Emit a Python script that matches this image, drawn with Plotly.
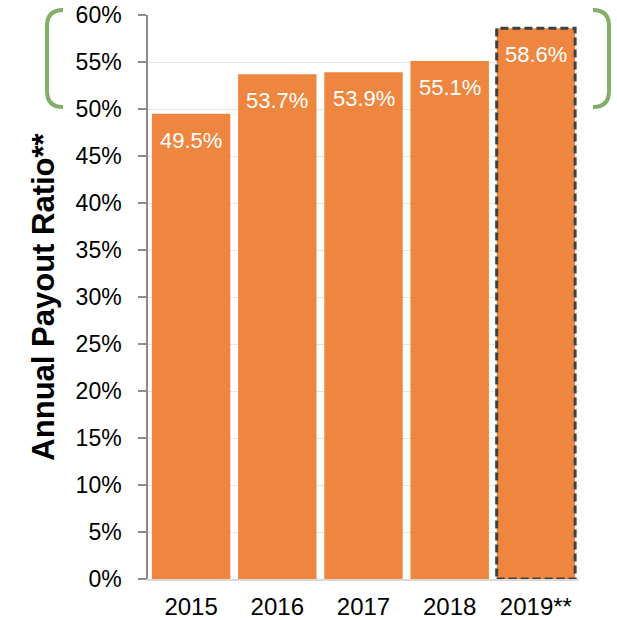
import plotly.graph_objects as go

categories = ["2015", "2016", "2017", "2018", "2019**"]
payout = [49.5, 53.7, 53.9, 55.1, 58.6]
tick_vals = list(range(0, 61, 5))
tick_text = [f"{v}%" for v in tick_vals]

W, H = 617, 620
L, R, T, B = 148, 38, 15, 41
pw, ph = W - L - R, H - T - B

def px(x):
    return (x - L) / pw

def py(y):
    return (H - B - y) / ph

fig = go.Figure()
fig.add_trace(go.Bar(
    x=categories, y=payout,
    marker=dict(color="#EE8640", line=dict(width=0)),
))

for i, (c, v) in enumerate(zip(categories, payout)):
    fig.add_annotation(x=i, y=v, xref="x", yref="y", text=f"{v:.1f}%",
                       showarrow=False, yanchor="top", yshift=-12,
                       font=dict(color="white", size=22, family="Liberation Sans, Arial"))

# dashed outline around last bar
fig.add_shape(type="rect", xref="x", yref="y",
              x0=len(categories) - 1 - 0.455, x1=len(categories) - 1 + 0.455,
              y0=0, y1=payout[-1],
              line=dict(color="#404040", width=3, dash="8px,4px"))

def bracket(x_end, x_v, y_top, y_bot, r=16):
    d = (f"M {px(x_end)},{py(y_top)} Q {px(x_v)},{py(y_top)} {px(x_v)},{py(y_top + r)} "
         f"L {px(x_v)},{py(y_bot - r)} Q {px(x_v)},{py(y_bot)} {px(x_end)},{py(y_bot)}")
    return d

green = "#82AE68"
fig.add_shape(type="path", xref="paper", yref="paper", path=bracket(63, 47, 10, 107),
              line=dict(color=green, width=4))
fig.add_shape(type="path", xref="paper", yref="paper", path=bracket(593, 609, 10, 107),
              line=dict(color=green, width=4))

fig.update_layout(
    width=W, height=H,
    margin=dict(l=L, r=R, t=T, b=B, autoexpand=False),
    paper_bgcolor="white", plot_bgcolor="white",
    bargap=0.09,
    showlegend=False,
    font=dict(family="Liberation Sans, Arial", color="black"),
    xaxis=dict(
        type="category",
        showline=True, linecolor="#d9d9d9", linewidth=1.5,
        tickfont=dict(size=24), ticks="", showgrid=False,
        ticklabelstandoff=5,
    ),
    yaxis=dict(
        range=[0, 60], tickvals=tick_vals, ticktext=tick_text,
        tickfont=dict(size=23),
        showline=True, linecolor="#8c8c8c", linewidth=1.5,
        ticks="outside", ticklen=8, tickcolor="#8c8c8c", tickwidth=1.5,
        ticklabelstandoff=12,
        showgrid=True, gridcolor="#e6e6e6", gridwidth=1,
        zeroline=False,
        title=dict(text="<b>Annual Payout Ratio**</b>", font=dict(size=31), standoff=12),
    ),
)

fig.write_html("out.html", config={"displayModeBar": False},
               post_script="document.body.style.margin='0px';")
